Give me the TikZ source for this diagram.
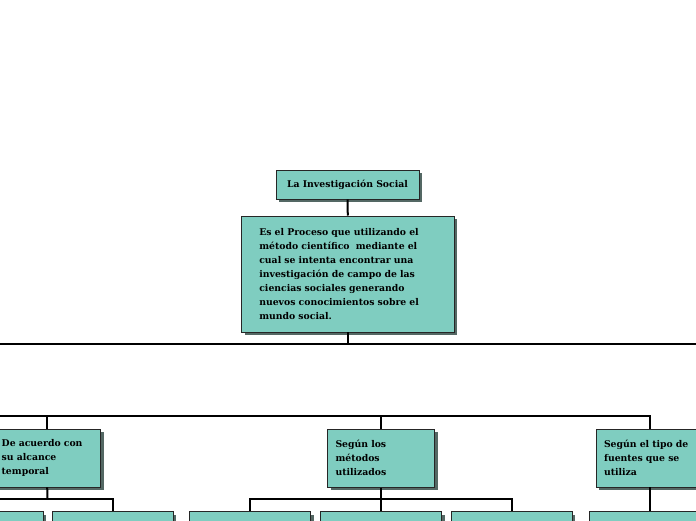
\documentclass[tikz,border=0pt]{standalone}
\usepackage{fontspec}
\setmainfont{DejaVu Serif}
\usetikzlibrary{shadows}
\definecolor{boxcolor}{RGB}{127, 205, 192}
\definecolor{shadowcolor}{RGB}{84, 104, 100}

\tikzset{
    conceptbox/.style={draw=black!85, line width=0.6pt, fill=boxcolor, inner sep=0pt,
        font=\bfseries\fontsize{9.3}{14}\selectfont,
        drop shadow={shadow xshift=3pt, shadow yshift=-3pt, fill=shadowcolor, opacity=1}},
    textbox/.style={conceptbox, align=left, text width=#1},
    link/.style={line width=2pt, black}
}

\begin{document}
\begin{tikzpicture}[x=1pt, y=-1pt]

    % ==========================================
    % --- Canvas ---
    % ==========================================
    \fill[white] (0,0) rectangle (696,520);
    \clip (0,0) rectangle (696,520);

    % --- Top of the map ---
    \node[conceptbox, minimum width=143pt, minimum height=29pt] (title) at (347.5, 184.6) {La Investigación Social};
    \node[textbox=177pt, minimum width=212.5pt, minimum height=116pt, inner xsep=17.7pt] (definicion) at (347.8, 273.8)
        {Es el Proceso que utilizando el\\ método científico\ \ mediante el\\ cual se intenta encontrar una\\ investigación de campo de las\\ ciencias sociales generando\\ nuevos conocimientos sobre el\\ mundo social.};

    % --- Classification criteria ---
    \node[textbox=91pt, minimum width=107pt, minimum height=58pt, inner xsep=8pt] (alcance) at (47.2, 458) {De acuerdo con\\ su alcance\\ temporal};
    \node[textbox=91pt, minimum width=107pt, minimum height=58pt, inner xsep=8pt] (metodos) at (381, 458.2) {Según los\\ métodos\\ utilizados};
    \node[textbox=91pt, minimum width=107pt, minimum height=58pt, inner xsep=8pt] (fuentes) at (649.5, 458) {Según el tipo de\\ fuentes que se\\ utiliza};

    % --- Lower row (cut by the page edge) ---
    \foreach \n/\x in {b1/-17.5, b2/112.5, b3/250, b4/381, b5/511.5, b6/649.5}
        \node[conceptbox, minimum width=121pt, minimum height=58pt] (\n) at (\x, 540.5) {};

    % ==========================================
    % --- Connectors ---
    % ==========================================
    \coordinate (barL) at (-10, 344);
    \coordinate (barR) at (706, 344);
    \coordinate (barB) at (-10, 416);
    \coordinate (jA) at (47.5, 499);
    \coordinate (jB) at (381, 499);

    \draw[link] (title.south) -- (definicion.north);
    \draw[link] (definicion.south) -- (definicion.south |- barL);
    \draw[link] (barL) -- (barR);

    \draw[link] (barB) -| (fuentes.north);
    \draw[link] (alcance.north) -- (alcance.north |- barB);
    \draw[link] (metodos.north) -- (metodos.north |- barB);

    \draw[link] (alcance.south) -- (jA);
    \draw[link] (b1.north) |- (jA) -| (b2.north);
    \draw[link] (metodos.south) -- (b4.north);
    \draw[link] (b3.north) |- (jB) -| (b5.north);
    \draw[link] (fuentes.south) -- (b6.north);

\end{tikzpicture}
\end{document}
